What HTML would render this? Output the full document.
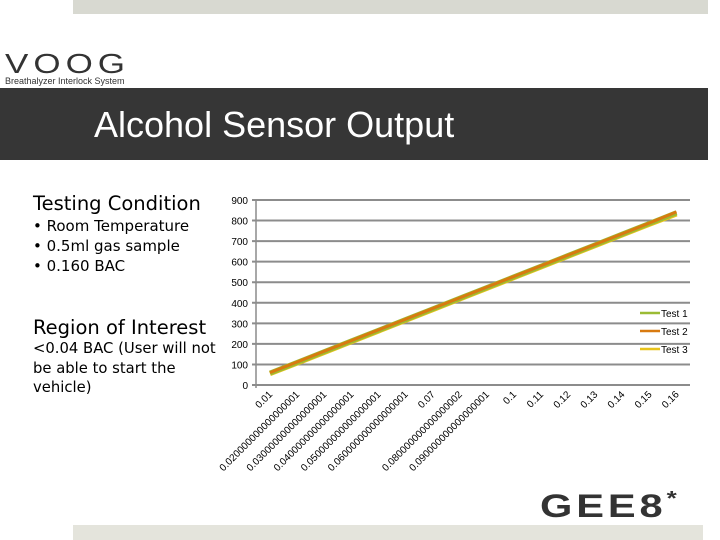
<!DOCTYPE html>
<html><head><meta charset="utf-8"><style>
body{margin:0;width:720px;height:540px;overflow:hidden;background:#fff;font-family:"Liberation Sans",sans-serif;position:relative}
.abs{position:absolute}
</style></head><body>
<div class="abs" style="left:73px;top:0;width:635px;height:14px;background:#d8d9d1"></div>
<div class="abs" style="left:5px;top:52px;">
<div style="font-size:28px;letter-spacing:4px;color:#333;font-weight:normal;line-height:24px;transform:scaleX(1.25);transform-origin:left">VOOG</div>
<div style="font-size:9px;color:#333">Breathalyzer Interlock System</div></div>
<div class="abs" style="left:0;top:88px;width:708px;height:72px;background:#363636"></div>
<div class="abs" style="left:94px;top:104px;font-size:36px;color:#fff">Alcohol Sensor Output</div>
<div class="abs" style="left:33px;top:192px;font-size:19.5px;font-family:'DejaVu Sans',sans-serif;color:#000">Testing Condition</div>
<div class="abs" style="left:33px;top:216px;font-size:15px;line-height:20px;font-family:'DejaVu Sans',sans-serif">• Room Temperature<br>• 0.5ml gas sample<br>• 0.160 BAC</div>
<div class="abs" style="left:33px;top:316px;font-size:19.5px;font-family:'DejaVu Sans',sans-serif">Region of Interest</div>
<div class="abs" style="left:33px;top:339px;font-size:14.8px;line-height:19.5px;font-family:'DejaVu Sans',sans-serif;width:200px">&lt;0.04 BAC (User will not be able to start the vehicle)</div>
<svg class="abs" style="left:0;top:0" width="720" height="540">
<g id="g"></g></svg>
<div class="abs" style="left:540px;top:488px;font-size:32px;font-weight:bold;color:#333;letter-spacing:3px;transform:scaleX(1.3);transform-origin:left">GEE8<span style="font-size:20px;vertical-align:top">*</span></div>
<div class="abs" style="left:73px;top:525px;width:630px;height:15px;background:#e4e4dc"></div>
<script>
const categories=["0.01","0.020000000000000001","0.030000000000000001","0.040000000000000001","0.050000000000000001","0.060000000000000001","0.07","0.080000000000000002","0.090000000000000001","0.1","0.11","0.12","0.13","0.14","0.15","0.16"];
const test1=[58,110,162,214,266,318,370,422,474,526,578,630,682,734,786,838];
const test2=[60,112,164,216,268,320,372,424,476,528,580,632,684,736,788,842];
const test3=[55,106,158,210,262,314,366,418,470,522,574,626,678,730,782,832];
const yTicks=[0,100,200,300,400,500,600,700,800,900];
const NS="http://www.w3.org/2000/svg";
const g=document.getElementById('g');
const X=i=>270+i*27.1, Y=v=>385-v*185/900;
function mk(t,a){const e=document.createElementNS(NS,t);for(const k in a)e.setAttribute(k,a[k]);g.appendChild(e);return e;}
yTicks.forEach(v=>{
 const l=mk('line',{x1:252,x2:690,y1:Y(v),y2:Y(v),stroke:'#8c8c8c','stroke-width':2});
 
 
 const t=mk('text',{x:248,y:Y(v)+4,'text-anchor':'end','font-size':10,'font-family':'Liberation Sans'});
 t.textContent=v;
 
 
});
const ax=mk('line',{x1:256,x2:256,y1:Y(900),y2:Y(0)+3,stroke:'#8c8c8c','stroke-width':1.5});


categories.forEach((c,i)=>{
 const t=mk('text',{x:X(i)+3,y:395,'text-anchor':'end','font-size':10,'font-family':'Liberation Sans',transform:`rotate(-45 ${X(i)+3} 395)`});
 t.textContent=c;
 
 
});
[[test3,'#e8c31c','test-3-line'],[test1,'#9bbb34','test-1-line'],[test2,'#d87a10','test-2-line']].forEach(([d,col,n])=>{
 const p=mk('polyline',{points:d.map((v,i)=>X(i)+','+Y(v)).join(' '),fill:'none',stroke:col,'stroke-width':n=='test-2-line'?3:5});
 
 
});
[['Test 1','#9bbb34',313],['Test 2','#d87a10',331],['Test 3','#e8c31c',349]].forEach(([n,col,y])=>{
 const l=mk('line',{x1:640,x2:660,y1:y,y2:y,stroke:col,'stroke-width':2.5});
 
 
 const t=mk('text',{x:661,y:y+4,'font-size':10,'font-family':'Liberation Sans'});
 t.textContent=n;
 
 
});
</script>
</body></html>
